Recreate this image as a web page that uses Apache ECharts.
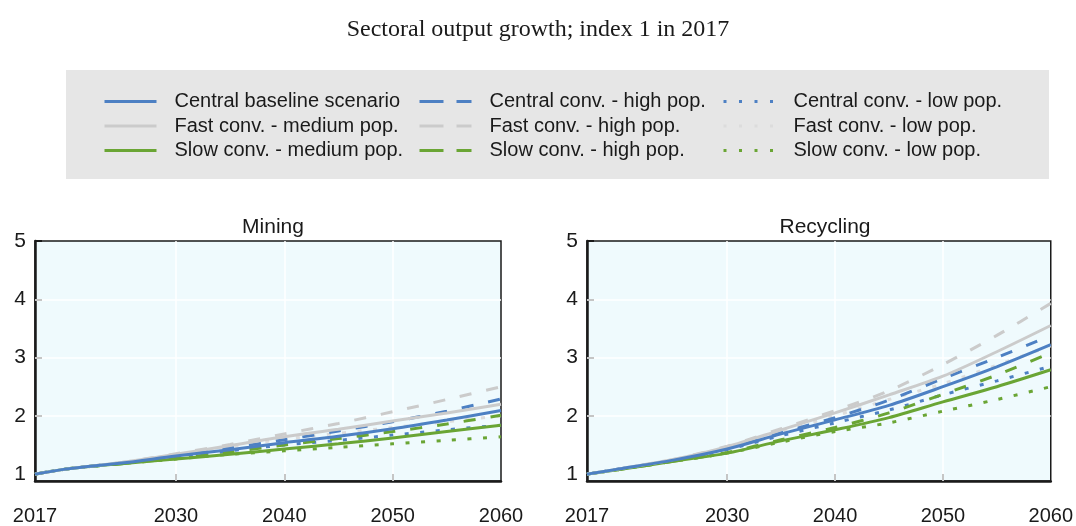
<!DOCTYPE html>
<html>
<head>
<meta charset="utf-8">
<script src="https://cdn.jsdelivr.net/npm/echarts@6/dist/echarts.min.js"></script>
<style>
  html, body { margin: 0; padding: 0; background: #ffffff; }
  #chart { width: 1076px; height: 526px; }
</style>
</head>
<body>
<div id="chart"></div>
<script>
// ---- Data ----
const years = [2017, 2020, 2025, 2030, 2035, 2040, 2045, 2050, 2055, 2060];

const scenarioNames = [
  'Central baseline scenario', 'Fast conv. - medium pop.', 'Slow conv. - medium pop.',
  'Central conv. - high pop.', 'Fast conv. - high pop.', 'Slow conv. - high pop.',
  'Central conv. - low pop.', 'Fast conv. - low pop.', 'Slow conv. - low pop.'
];

const panelTitles = ['Mining', 'Recycling'];
const xTickLabels = [2017, 2030, 2040, 2050, 2060];
const xInnerTicks = [2030, 2040, 2050];
const yTickLabels = [1, 2, 3, 4, 5];
const yGridValues = [2, 3, 4];

// Mining
const miningCentralBaseline = [1.00, 1.09, 1.19, 1.31, 1.42, 1.54, 1.65, 1.78, 1.93, 2.09];
const miningFastMedium      = [1.00, 1.09, 1.20, 1.34, 1.49, 1.64, 1.77, 1.91, 2.05, 2.20];
const miningSlowMedium      = [1.00, 1.09, 1.18, 1.26, 1.34, 1.43, 1.52, 1.62, 1.73, 1.84];
const miningCentralHigh     = [1.00, 1.09, 1.19, 1.32, 1.45, 1.59, 1.74, 1.90, 2.08, 2.29];
const miningFastHigh        = [1.00, 1.09, 1.20, 1.35, 1.51, 1.69, 1.87, 2.07, 2.28, 2.50];
const miningSlowHigh        = [1.00, 1.09, 1.18, 1.27, 1.38, 1.50, 1.61, 1.73, 1.86, 2.01];
const miningCentralLow      = [1.00, 1.09, 1.19, 1.30, 1.40, 1.50, 1.58, 1.67, 1.76, 1.84];
const miningFastLow         = [1.00, 1.09, 1.20, 1.33, 1.47, 1.60, 1.70, 1.80, 1.90, 2.00];
const miningSlowLow         = [1.00, 1.09, 1.18, 1.26, 1.34, 1.40, 1.46, 1.52, 1.58, 1.64];

// Recycling
const recyclingCentralBaseline = [1.00, 1.09, 1.24, 1.43, 1.69, 1.93, 2.18, 2.50, 2.84, 3.22];
const recyclingFastMedium      = [1.00, 1.09, 1.25, 1.47, 1.76, 2.05, 2.36, 2.68, 3.10, 3.55];
const recyclingSlowMedium      = [1.00, 1.08, 1.22, 1.36, 1.57, 1.76, 1.97, 2.24, 2.50, 2.79];
const recyclingCentralHigh     = [1.00, 1.09, 1.24, 1.44, 1.71, 1.97, 2.27, 2.64, 3.00, 3.38];
const recyclingFastHigh        = [1.00, 1.09, 1.25, 1.48, 1.78, 2.09, 2.43, 2.88, 3.38, 3.93];
const recyclingSlowHigh        = [1.00, 1.08, 1.22, 1.37, 1.59, 1.80, 2.05, 2.37, 2.70, 3.08];
const recyclingCentralLow      = [1.00, 1.09, 1.23, 1.42, 1.66, 1.88, 2.10, 2.36, 2.60, 2.85];
const recyclingFastLow         = [1.00, 1.09, 1.25, 1.46, 1.73, 2.00, 2.28, 2.55, 2.87, 3.20];
const recyclingSlowLow         = [1.00, 1.08, 1.22, 1.36, 1.55, 1.73, 1.88, 2.08, 2.28, 2.50];

const panelValues = [
  [miningCentralBaseline, miningFastMedium, miningSlowMedium,
   miningCentralHigh, miningFastHigh, miningSlowHigh,
   miningCentralLow, miningFastLow, miningSlowLow],
  [recyclingCentralBaseline, recyclingFastMedium, recyclingSlowMedium,
   recyclingCentralHigh, recyclingFastHigh, recyclingSlowHigh,
   recyclingCentralLow, recyclingFastLow, recyclingSlowLow]
];

// ---- Styles ----
const BLUE = '#4d80c3', GREY = '#cbcbcb', GREY_LIGHT = '#dcdcdc', GREEN = '#6aa534';
const DASH = [12, 15], DOT = [4, 11.5];
const seriesStyle = [
  { color: BLUE,  type: 'solid' }, { color: GREY, type: 'solid' }, { color: GREEN, type: 'solid' },
  { color: BLUE,  type: DASH },    { color: GREY, type: DASH },    { color: GREEN, type: DASH },
  { color: BLUE,  type: DOT },     { color: GREY_LIGHT, type: DOT }, { color: GREEN, type: DOT }
];
const legendDash = ['solid', [24, 13], [3, 12.5]];

const FONT = '"Liberation Sans", Arial, sans-serif';
const AXIS_BLACK = '#1a1a1a';

const grids = [
  { left: 35, right: 575, top: 241, bottom: 41 },
  { left: 587, right: 23, top: 241, bottom: 41 }
];

const chart = echarts.init(document.getElementById('chart'), null, { renderer: 'canvas' });

const series = [];
panelValues.forEach((vals, p) => {
  vals.forEach((arr, s) => {
    const st = seriesStyle[s];
    const item = {
      name: scenarioNames[s],
      type: 'line',
      xAxisIndex: p,
      yAxisIndex: p,
      smooth: 0.3,
      symbol: 'none',
      showSymbol: false,
      silent: true,
      z: 3 + (8 - s),
      color: st.color,
      lineStyle: { color: st.color, width: 3, type: st.type, cap: 'butt' },
      data: years.map((y, i) => [y, arr[i]])
    };
    if (s === 0) {
      item.markLine = {
        silent: true,
        symbol: 'none',
        z: 1,
        label: { show: false },
        lineStyle: { color: '#ffffff', width: 1.5, type: 'solid' },
        data: yGridValues.map(v => ({ yAxis: v }))
          .concat(xInnerTicks.map(v => ({ xAxis: v })))
      };
    }
    series.push(item);
  });
});

// Three legend columns: medium / high / low population variants
const legendColumns = [0, 1, 2].map(c => ({
  show: true,
  orient: 'vertical',
  left: [103, 418, 722][c],
  top: 90,
  padding: 0,
  itemWidth: 52,
  itemHeight: 14,
  itemGap: 1.5,
  selectedMode: false,
  textStyle: { fontFamily: FONT, fontSize: 20, color: '#1a1a1a', padding: [0, 0, 0, 13], lineHeight: 23 },
  data: [0, 1, 2].map(r => {
    const s = c * 3 + r;
    return {
      name: scenarioNames[s],
      itemStyle: { opacity: 0 },
      lineStyle: { color: seriesStyle[s].color, width: 3, type: legendDash[c], cap: 'butt' }
    };
  })
}));

const option = {
  animation: false,
  backgroundColor: '#ffffff',
  title: [
    {
      text: 'Sectoral output growth; index 1 in 2017',
      left: 'center', top: 13,
      textStyle: { fontFamily: '"Liberation Serif", "Times New Roman", serif', fontSize: 24, fontWeight: 'normal', color: '#1a1a1a' }
    },
    {
      text: panelTitles[0], left: 268, top: 212, textAlign: 'center',
      textStyle: { fontFamily: FONT, fontSize: 21, fontWeight: 'normal', color: '#1a1a1a' }
    },
    {
      text: panelTitles[1], left: 820, top: 212, textAlign: 'center',
      textStyle: { fontFamily: FONT, fontSize: 21, fontWeight: 'normal', color: '#1a1a1a' }
    }
  ],
  graphic: [{
    type: 'rect', z: -1, silent: true,
    shape: { x: 66, y: 70, width: 983, height: 109 },
    style: { fill: '#e6e6e6' }
  }],
  legend: legendColumns,
  grid: grids.map(g => Object.assign({
    show: true,
    backgroundColor: '#effafd',
    borderColor: AXIS_BLACK,
    borderWidth: 1.5
  }, g)),
  xAxis: [0, 1].map(i => ({
    type: 'value',
    gridIndex: i,
    min: 2017,
    max: 2060,
    axisLine: { show: true, lineStyle: { color: AXIS_BLACK, width: 2.5 } },
    axisTick: { show: true, inside: true, length: 7, customValues: xInnerTicks, lineStyle: { color: AXIS_BLACK, width: 2 } },
    axisLabel: {
      customValues: xTickLabels, margin: 25,
      fontFamily: FONT, fontSize: 20, color: '#1a1a1a',
      formatter: v => String(v)
    },
    splitLine: { show: false }
  })),
  yAxis: [0, 1].map(i => ({
    type: 'value',
    gridIndex: i,
    min: 0.882,
    max: 5,
    axisLine: { show: true, lineStyle: { color: AXIS_BLACK, width: 2.5 } },
    axisTick: { show: true, inside: true, length: 7, customValues: yTickLabels, lineStyle: { color: AXIS_BLACK, width: 2 } },
    axisLabel: {
      customValues: yTickLabels, margin: 9,
      fontFamily: FONT, fontSize: 21, color: '#1a1a1a',
      formatter: v => String(v)
    },
    splitLine: { show: false }
  })),
  series: series
};

chart.setOption(option);
</script>
</body>
</html>
